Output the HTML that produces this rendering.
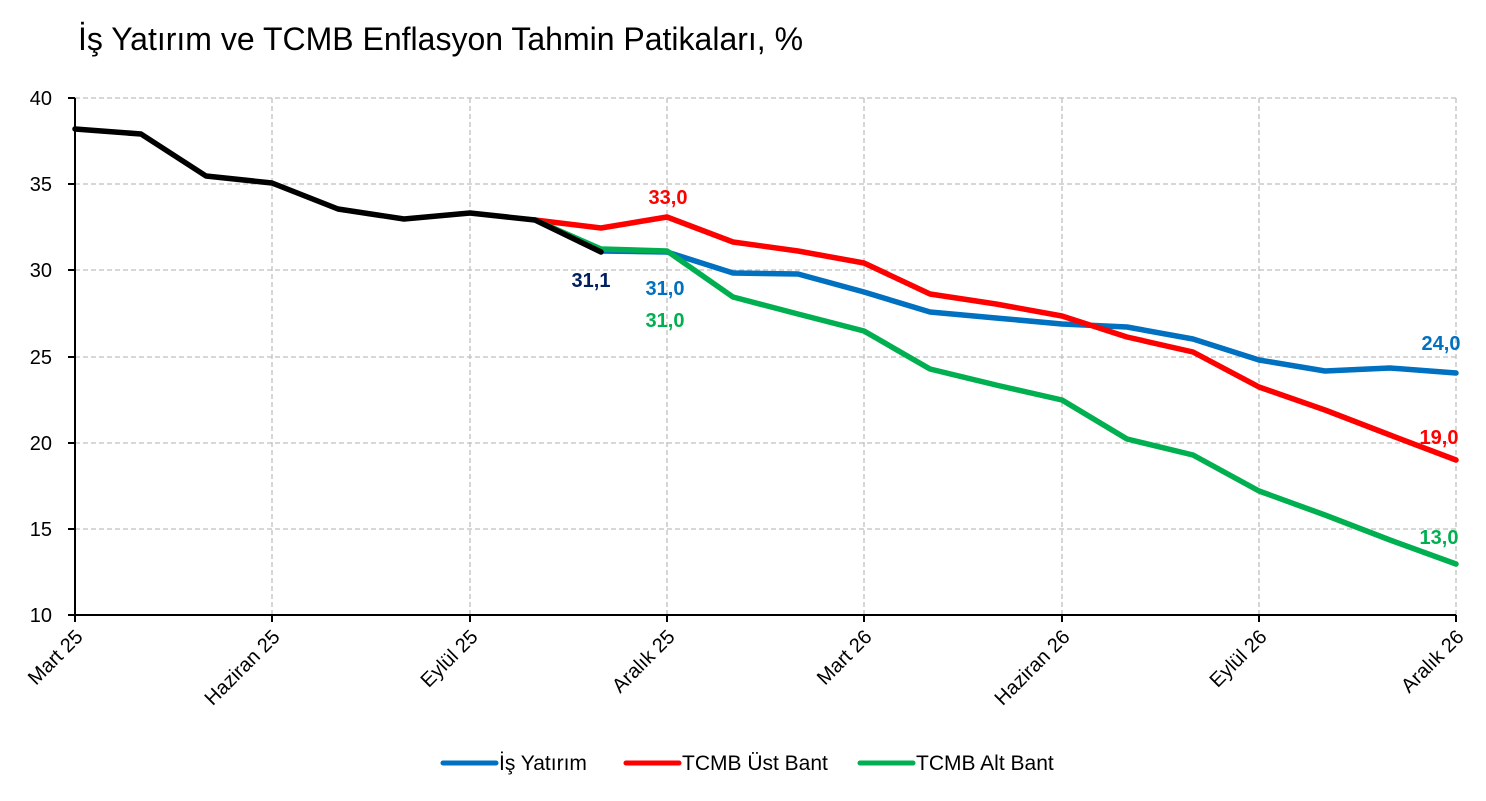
<!DOCTYPE html>
<html><head><meta charset="utf-8"><style>
body{margin:0;background:#fff;}
svg text{font-family:"Liberation Sans",sans-serif;}
</style></head><body>
<svg width="1486" height="796" xmlns="http://www.w3.org/2000/svg">
<text x="78" y="50" font-size="32" fill="#000">İş Yatırım ve TCMB Enflasyon Tahmin Patikaları, %</text>
<g stroke="#bfbfbf" stroke-width="1.3" stroke-dasharray="5,3">
<line x1="75" y1="98" x2="1456" y2="98"/><line x1="75" y1="184" x2="1456" y2="184"/>
<line x1="75" y1="270" x2="1456" y2="270"/><line x1="75" y1="357" x2="1456" y2="357"/>
<line x1="75" y1="443" x2="1456" y2="443"/><line x1="75" y1="529" x2="1456" y2="529"/>
<line x1="272" y1="98" x2="272" y2="615"/><line x1="470" y1="98" x2="470" y2="615"/>
<line x1="667" y1="98" x2="667" y2="615"/><line x1="864" y1="98" x2="864" y2="615"/>
<line x1="1062" y1="98" x2="1062" y2="615"/><line x1="1259" y1="98" x2="1259" y2="615"/>
<line x1="1456" y1="98" x2="1456" y2="615"/>
</g>
<g stroke="#000" stroke-width="2">
<line x1="75" y1="98" x2="75" y2="622"/><line x1="75" y1="615" x2="1456" y2="615"/>
<line x1="68" y1="98" x2="75" y2="98"/><line x1="68" y1="184" x2="75" y2="184"/><line x1="68" y1="270" x2="75" y2="270"/><line x1="68" y1="357" x2="75" y2="357"/><line x1="68" y1="443" x2="75" y2="443"/><line x1="68" y1="529" x2="75" y2="529"/><line x1="68" y1="615" x2="75" y2="615"/>
<line x1="272" y1="615" x2="272" y2="622"/><line x1="470" y1="615" x2="470" y2="622"/><line x1="667" y1="615" x2="667" y2="622"/><line x1="864" y1="615" x2="864" y2="622"/><line x1="1062" y1="615" x2="1062" y2="622"/><line x1="1259" y1="615" x2="1259" y2="622"/><line x1="1456" y1="615" x2="1456" y2="622"/>
</g>
<g font-size="20" text-anchor="end" fill="#000">
<text x="52" y="105">40</text><text x="52" y="191">35</text><text x="52" y="277">30</text><text x="52" y="364">25</text><text x="52" y="450">20</text><text x="52" y="536">15</text><text x="52" y="622">10</text>
</g>
<g font-size="20" text-anchor="end" fill="#000">
<text transform="translate(84,638) rotate(-45)">Mart 25</text>
<text transform="translate(281,638) rotate(-45)">Haziran 25</text>
<text transform="translate(479,638) rotate(-45)">Eylül 25</text>
<text transform="translate(676,638) rotate(-45)">Aralık 25</text>
<text transform="translate(873,638) rotate(-45)">Mart 26</text>
<text transform="translate(1071,638) rotate(-45)">Haziran 26</text>
<text transform="translate(1268,638) rotate(-45)">Eylül 26</text>
<text transform="translate(1465,638) rotate(-45)">Aralık 26</text>
</g>
<g fill="none" stroke-width="5.5" stroke-linejoin="round" stroke-linecap="round">
<polyline stroke="#0070c0" points="601,251 667,252 733,273 798,274 864,292 930,312 996,318 1062,324 1127,327 1193,339 1259,360 1325,371 1390,368 1456,373"/>
<polyline stroke="#ff0000" points="535,220 601,228 667,217 733,242 798,251 864,263 930,294 996,304 1062,316 1127,337 1193,352 1259,387 1325,410 1390,435 1456,460"/>
<polyline stroke="#00b050" points="535,220 601,249 667,251 733,297 798,314 864,331 930,369 996,385 1062,400 1127,439 1193,455 1259,491 1325,515 1390,540 1456,564"/>
<polyline stroke="#000" points="75,129 141,134 206,176 272,183 338,209 404,219 470,213 535,220 601,252"/>
</g>
<g font-size="20" font-weight="bold" text-anchor="middle">
<text x="591" y="287" fill="#002060">31,1</text>
<text x="665" y="295" fill="#0070c0">31,0</text>
<text x="665" y="327" fill="#00b050">31,0</text>
<text x="668" y="204" fill="#ff0000">33,0</text>
<text x="1441" y="350" fill="#0070c0">24,0</text>
<text x="1439" y="444" fill="#ff0000">19,0</text>
<text x="1439" y="544" fill="#00b050">13,0</text>
</g>
<g stroke-width="5" stroke-linecap="round">
<line x1="443" y1="763" x2="496" y2="763" stroke="#0070c0"/>
<line x1="626" y1="763" x2="679" y2="763" stroke="#ff0000"/>
<line x1="860" y1="763" x2="913" y2="763" stroke="#00b050"/>
</g>
<g font-size="21" fill="#000">
<text x="499" y="770">İş Yatırım</text>
<text x="682" y="770">TCMB Üst Bant</text>
<text x="916" y="770">TCMB Alt Bant</text>
</g>
</svg>
</body></html>
